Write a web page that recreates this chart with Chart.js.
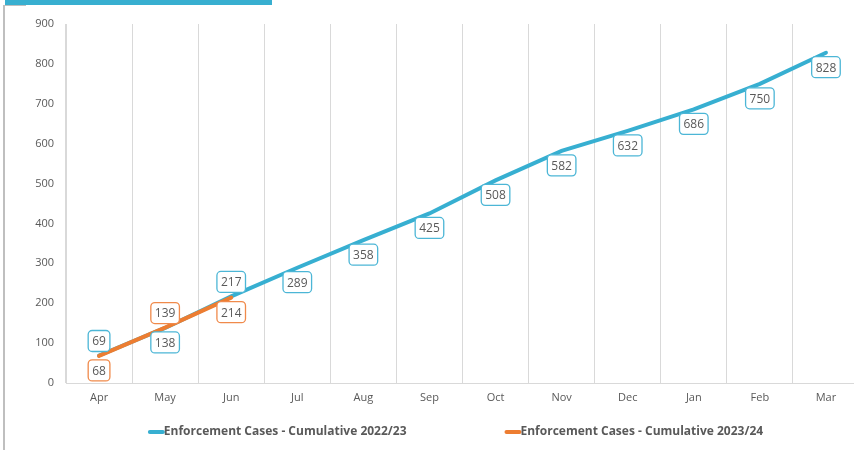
<!DOCTYPE html>
<html>
<head>
<meta charset="utf-8">
<script src="https://cdn.jsdelivr.net/npm/chart.js@4"></script>
<style>
  html, body { margin: 0; padding: 0; background: #fff; overflow: hidden; }
  body { width: 854px; height: 450px; position: relative; }
  .top-bar { position: absolute; left: 5px; top: 0; width: 267px; height: 5px; background: #38afd0; }
  .left-rule { position: absolute; left: 3px; top: 5px; width: 2px; height: 445px; background: #bfbfbf; }
  .top-rule { position: absolute; left: 3px; top: 5px; width: 23px; height: 1px; background: #bfbfbf; }
  .wrap { position: absolute; left: 0; top: 0; width: 859px; height: 450px; }
</style>
</head>
<body>
<div class="top-bar"></div>
<div class="left-rule"></div>
<div class="top-rule"></div>
<div class="wrap"><canvas id="chart"></canvas></div>
<script>
const months = ['Apr', 'May', 'Jun', 'Jul', 'Aug', 'Sep', 'Oct', 'Nov', 'Dec', 'Jan', 'Feb', 'Mar'];
const cases2223 = [69, 138, 217, 289, 358, 425, 508, 582, 632, 686, 750, 828];
const cases2324 = [68, 139, 214];
// where each value box sits relative to its point
const place2223 = ['above', 'below', 'above', 'below', 'below', 'below', 'below', 'below', 'below', 'below', 'below', 'below'];
const place2324 = ['below', 'above', 'below'];

const blue = '#37afd1';
const orange = '#ed7d31';
const grey = '#595959';

// boxed value labels like excel's callouts
const valueBoxes = {
  id: 'valueBoxes',
  afterDatasetsDraw(chart) {
    const ctx = chart.ctx;
    ctx.save();
    ctx.font = '12px "Open Sans"';
    ctx.textAlign = 'center';
    ctx.textBaseline = 'middle';
    chart.data.datasets.forEach((ds, di) => {
      const meta = chart.getDatasetMeta(di);
      meta.data.forEach((pt, i) => {
        const txt = String(ds.data[i]);
        const w = ctx.measureText(txt).width + 8;
        const h = 21;
        const cy = ds.places[i] == 'above' ? pt.y - 14.5 : pt.y + 14.5;
        ctx.beginPath();
        ctx.roundRect(pt.x - w / 2, cy - h / 2, w, h, 4);
        ctx.fillStyle = '#fff';
        ctx.fill();
        ctx.lineWidth = 1.3;
        ctx.strokeStyle = ds.boxColor;
        ctx.stroke();
        ctx.fillStyle = grey;
        ctx.fillText(txt, pt.x, cy + 1);
      });
    });
    ctx.restore();
  }
};

// legend drawn by hand so the gap between items can be wide
const bottomLegend = {
  id: 'bottomLegend',
  afterDraw(chart) {
    const ctx = chart.ctx;
    ctx.save();
    ctx.font = 'bold 12px "Liberation Sans Narrow", "Open Sans"';
    ctx.textBaseline = 'middle';
    const gap = 98, lineW = 16;
    const items = chart.data.datasets.map(ds => ({ text: ds.label, color: ds.borderColor, w: lineW + ctx.measureText(ds.label).width }));
    const total = items.reduce((t, it) => t + it.w, 0) + gap * (items.length - 1);
    let x = (chart.chartArea.left + chart.chartArea.right) / 2 - 7 - total / 2;
    const y = 432;
    items.forEach(it => {
      ctx.strokeStyle = it.color;
      ctx.lineWidth = 4;
      ctx.lineCap = 'round';
      ctx.beginPath();
      ctx.moveTo(x + 2, y);
      ctx.lineTo(x + lineW - 1, y);
      ctx.stroke();
      ctx.fillStyle = grey;
      ctx.fillText(it.text, x + lineW, y);
      x += it.w + gap;
    });
    ctx.restore();
  }
};

new Chart(document.getElementById('chart'), {
  type: 'line',
  data: {
    labels: months,
    datasets: [
      {
        label: 'Enforcement Cases - Cumulative 2022/23',
        data: cases2223,
        places: place2223,
        boxColor: '#4cb6d6',
        borderColor: blue,
        borderWidth: 4,
        borderCapStyle: 'round',
        pointRadius: 0,
        tension: 0,
        order: 1
      },
      {
        label: 'Enforcement Cases - Cumulative 2023/24',
        data: cases2324,
        places: place2324,
        boxColor: '#f08a4b',
        borderColor: orange,
        borderWidth: 4,
        borderCapStyle: 'round',
        pointRadius: 0,
        tension: 0,
        order: 0
      }
    ]
  },
  options: {
    responsive: true,
    maintainAspectRatio: false,
    animation: false,
    layout: { padding: { top: 24, left: 0, right: 0, bottom: 0 } },
    plugins: {
      legend: { display: false },
      tooltip: { enabled: false }
    },
    scales: {
      x: {
        offset: true,
        grid: { offset: true, color: '#d9d9d9', drawTicks: false },
        border: { color: '#d9d9d9' },
        ticks: { color: grey, font: { family: 'Open Sans', size: 11 }, padding: 8 },
        afterFit(scale) { scale.height = 67; }
      },
      y: {
        min: 0,
        max: 900,
        ticks: { stepSize: 100, color: grey, font: { family: 'Open Sans', size: 11 }, padding: 12 },
        grid: { display: false, drawTicks: false },
        border: { color: '#d9d9d9' },
        afterFit(scale) { scale.width = 66; }
      }
    }
  },
  plugins: [valueBoxes, bottomLegend]
});
</script>
</body>
</html>
